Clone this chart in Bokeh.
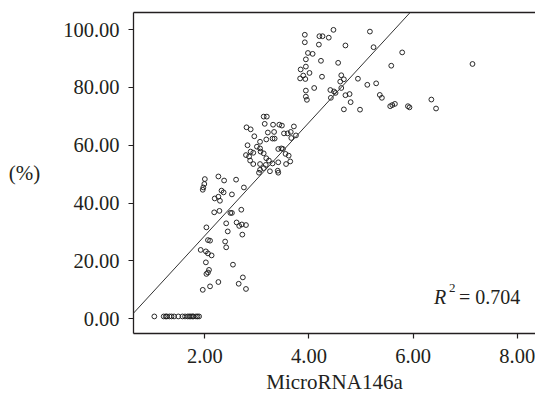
from bokeh.plotting import figure
from bokeh.models import (Range1d, FixedTicker, NumeralTickFormatter, LinearAxis,
                          Slope, Label, ColumnDataSource)
from bokeh.embed import file_html
from bokeh.resources import INLINE

# ---- data ----
zero_x = [1.03, 1.21, 1.25, 1.27, 1.32, 1.36, 1.41, 1.49, 1.57, 1.62, 1.67, 1.70,
          1.73, 1.76, 1.78, 1.83, 1.86, 1.89]
zero_y = [0.8] * len(zero_x)

low_x = [2.00, 1.99, 1.97, 1.96, 2.26, 2.37, 2.60, 2.75, 2.32, 2.36,
         2.52, 2.19, 2.26, 2.29, 2.18, 2.28, 2.49, 2.52, 2.70, 2.41,
         2.61, 2.66, 2.71, 2.79, 2.03, 2.44, 2.72, 2.06, 2.10, 2.39,
         2.41, 1.92, 2.02, 2.06, 2.13, 2.02, 2.54, 2.08, 2.06, 2.03,
         2.73, 2.26, 2.65, 2.10, 1.96, 2.79]
low_y = [48.3, 46.6, 45.4, 44.6, 49.2, 47.8, 48.1, 45.4, 44.3, 43.7,
         43.0, 41.6, 42.2, 40.8, 36.8, 37.3, 36.6, 36.6, 37.7, 33.0,
         33.3, 32.1, 32.6, 32.4, 31.6, 30.2, 29.1, 27.2, 27.0, 26.7,
         24.7, 23.8, 23.3, 22.6, 21.9, 19.5, 18.7, 16.9, 16.0, 15.5,
         14.3, 12.7, 12.1, 11.2, 10.0, 10.3]

mid_x = [3.13, 3.19, 3.15, 2.80, 2.88, 3.31, 3.43, 3.48, 3.71, 3.21,
         3.33, 3.52, 3.59, 3.65, 3.75, 2.95, 3.18, 3.30, 3.34, 3.06,
         3.66, 2.82, 3.00, 3.06, 3.41, 3.47, 3.50, 2.88, 2.93, 3.07,
         3.13, 2.79, 2.85, 3.55, 3.61, 3.18, 3.23, 2.87, 2.93, 3.06,
         3.17, 3.30, 3.41, 3.56, 3.64, 3.06, 3.13, 3.25, 3.04, 3.40,
         3.41]
mid_y = [69.9, 69.9, 67.4, 66.2, 65.5, 67.1, 67.1, 66.8, 66.5, 64.4,
         64.6, 64.1, 64.1, 64.6, 63.4, 63.1, 62.0, 62.3, 62.3, 61.2,
         62.5, 60.0, 59.5, 58.9, 58.7, 58.9, 58.7, 57.8, 57.4, 57.8,
         57.2, 56.6, 56.1, 57.0, 56.4, 55.5, 54.7, 54.7, 53.5, 53.5,
         53.2, 53.7, 54.1, 53.5, 54.4, 51.5, 52.1, 51.0, 50.5, 51.2,
         50.5]

high_x = [3.92, 3.92, 4.20, 4.26, 4.38, 4.47, 4.19, 3.98, 4.07, 3.94,
          4.23, 3.94, 3.84, 4.01, 3.89, 3.83, 3.93, 4.25, 4.56, 4.10,
          3.94, 3.94, 3.96, 4.41, 4.42, 4.51, 4.48, 4.62, 5.17, 4.70,
          5.24, 5.79, 5.58, 7.14, 4.62, 4.67, 4.60, 4.94, 5.12, 5.29,
          4.70, 4.78, 4.80, 4.67, 4.98, 5.36, 5.40, 5.56, 5.60, 5.65,
          5.90, 5.93, 6.35, 6.44]
high_y = [98.2, 95.6, 97.7, 97.7, 97.2, 99.9, 94.8, 91.9, 91.6, 89.7,
          89.2, 87.2, 86.2, 85.0, 84.1, 83.1, 82.9, 83.7, 88.5, 79.8,
          78.9, 76.8, 75.7, 79.1, 76.4, 78.1, 78.6, 79.8, 99.3, 94.5,
          93.9, 92.1, 87.5, 88.1, 84.2, 82.8, 82.0, 83.0, 80.9, 81.4,
          77.3, 77.7, 74.9, 72.4, 72.3, 77.4, 76.4, 73.5, 73.9, 74.3,
          73.5, 73.1, 75.8, 72.7]

fit_intercept = -10.4
fit_slope = 19.57
r2_text = "0.704"

x_ticks = [2, 4, 6, 8]
y_ticks = [0, 20, 40, 60, 80, 100]

mirna = zero_x + low_x + mid_x + high_x
percent = zero_y + low_y + mid_y + high_y

FONT = "Liberation Serif"
INK = "#231f20"

p = figure(width=535, height=396,
           x_range=Range1d(0.63, 8.35), y_range=Range1d(-5.1, 105.9),
           output_backend="svg", toolbar_location=None,
           min_border_left=133, min_border_right=0,
           min_border_top=12, min_border_bottom=0)
p.outline_line_color = None
p.grid.visible = False
p.background_fill_color = "white"
p.border_fill_color = "white"

src = ColumnDataSource(dict(x=mirna, y=percent))
p.scatter("x", "y", source=src, marker="circle", size=4.8,
          fill_color=None, line_color="#1e1e1e", line_width=0.95)

p.add_layout(Slope(gradient=fit_slope, y_intercept=fit_intercept,
                   line_color="#333333", line_width=1))

for ax in (p.xaxis[0], p.yaxis[0]):
    ax.axis_line_color = INK
    ax.axis_line_width = 1.3
    ax.major_tick_line_color = INK
    ax.major_tick_line_width = 1.2
    ax.major_tick_out = 5
    ax.major_tick_in = 0
    ax.minor_tick_line_color = None
    ax.major_label_text_font = FONT
    ax.major_label_text_font_size = "20.5px"
    ax.major_label_text_color = INK
    ax.axis_label_text_font = FONT
    ax.axis_label_text_font_size = "21px"
    ax.axis_label_text_font_style = "normal"
    ax.axis_label_text_color = INK
    ax.formatter = NumeralTickFormatter(format="0.00")

p.xaxis[0].ticker = FixedTicker(ticks=x_ticks)
p.yaxis[0].ticker = FixedTicker(ticks=y_ticks)
p.xaxis[0].axis_label = "MicroRNA146a"
p.xaxis[0].major_label_standoff = 10
p.xaxis[0].axis_label_standoff = 4
p.yaxis[0].axis_label = "(%)"
p.yaxis[0].axis_label_orientation = "horizontal"
p.yaxis[0].major_label_standoff = 9
p.yaxis[0].axis_label_standoff = 20

top = LinearAxis(ticker=FixedTicker(ticks=[]), axis_line_color=INK,
                 axis_line_width=1.5, major_tick_out=0, major_tick_in=0,
                 minor_tick_out=0, minor_tick_in=0, major_label_standoff=0,
                 axis_label_standoff=0, major_label_text_font_size="0px")
p.add_layout(top, "above")

# R^2 annotation
lab_y = 7.6
p.add_layout(Label(x=6.40, y=lab_y, text="R", text_font=FONT,
                   text_font_style="italic", text_font_size="20px",
                   text_color=INK, text_baseline="alphabetic"))
p.add_layout(Label(x=6.69, y=lab_y + 3.2, text="2", text_font=FONT,
                   text_font_size="13px", text_color=INK,
                   text_baseline="alphabetic"))
p.add_layout(Label(x=6.88, y=lab_y, text="= " + r2_text, text_font=FONT,
                   text_font_size="20px", text_color=INK,
                   text_baseline="alphabetic"))

open("out.html", "w").write(file_html(p, INLINE))
